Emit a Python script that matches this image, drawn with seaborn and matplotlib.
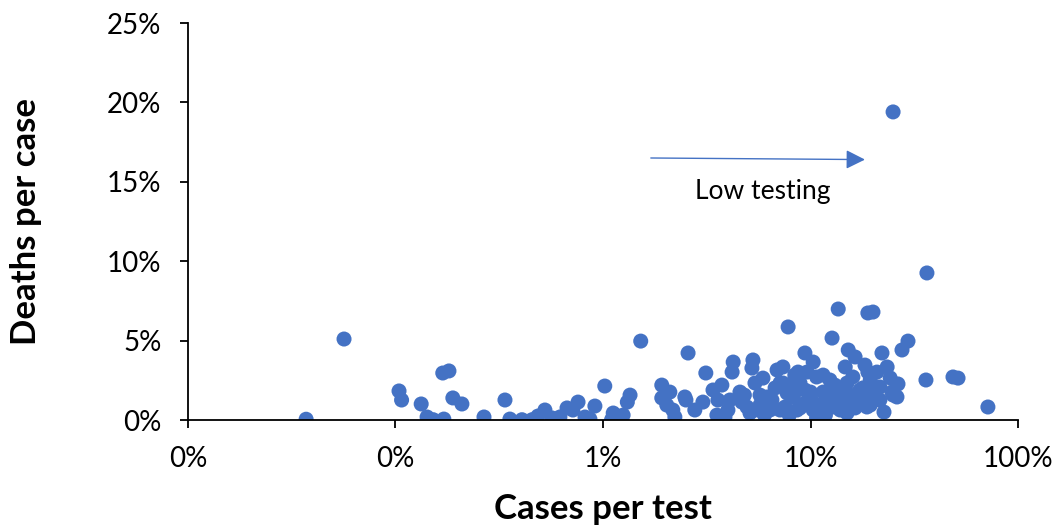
import pandas as pd
import seaborn as sns
import matplotlib.pyplot as plt
from matplotlib.ticker import PercentFormatter, FixedLocator, NullLocator

# cases per test (%) and deaths per case (%)
cases_per_test = [
    0.0371, 0.0565, 0.104, 0.107, 0.133, 0.142, 0.152, 0.171, 0.169, 0.181,
    0.189, 0.209, 0.267, 0.337, 0.356, 0.407, 0.455, 0.486, 0.525, 0.568,
    0.620, 0.671, 0.716, 0.758, 0.819, 0.914, 0.865, 1.02, 1.10, 1.12,
    1.25, 1.31, 1.35, 1.52, 1.92, 2.10, 1.92, 2.03, 2.17, 2.22,
    2.48, 2.57, 2.51, 2.77, 3.03, 3.13, 3.39, 3.74, 3.58, 3.54,
    4.24, 4.19, 5.28, 5.22, 5.90, 5.40, 4.57, 4.09, 4.00, 3.87,
    4.94, 6.17, 6.90, 7.36, 7.13, 7.71, 6.38, 5.11, 7.13, 7.80,
    13.6, 12.7, 18.9, 9.40, 10.3, 15.2, 16.4, 14.7, 8.71, 7.36,
    8.90, 8.24, 7.54, 10.3, 10.7, 11.5, 12.4, 11.5, 13.4, 15.0,
    16.0, 17.3, 14.4, 12.8, 15.0, 16.7, 18.7, 9.40, 8.61, 12.0,
    18.9, 36.4, 20.0, 29.5, 27.6, 22.1, 23.4, 18.3, 20.9, 19.4,
    17.9, 21.6, 26.4, 26.1, 22.6, 36.0, 48.6, 51.4, 24.7, 18.3,
    71.6, 25.0, 9.62, 10.7, 10.0, 5.71, 6.75, 7.96, 9.40, 11.1,
    13.9, 16.4, 20.5, 5.71, 6.52, 4.80, 8.40, 13.1, 15.5, 19.4,
    24.2, 6.00, 7.90, 8.90, 11.8, 13.1, 15.5, 14.7, 4.67, 5.60,
    10.1, 8.40, 19.4, 21.6, 25.0,
]
deaths_per_case = [
    0.05, 5.10, 1.83, 1.26, 1.01, 0.19, 0.02, 0.06, 2.96, 3.09,
    1.39, 1.01, 0.19, 1.26, 0.06, 0.02, 0.02, 0.25, 0.63, 0.13,
    0.19, 0.76, 0.63, 1.13, 0.19, 0.88, 0.06, 2.14, 0.02, 0.44,
    0.31, 1.13, 1.57, 4.97, 2.20, 1.76, 1.39, 0.94, 0.63, 0.19,
    1.45, 4.22, 1.26, 0.63, 1.13, 2.96, 1.89, 2.20, 1.26, 0.31,
    3.65, 3.02, 3.78, 3.27, 2.64, 2.33, 1.76, 1.26, 0.63, 0.19,
    0.82, 1.45, 3.15, 3.34, 2.33, 1.70, 0.63, 0.44, 0.63, 5.86,
    6.99, 5.16, 6.74, 4.22, 3.65, 4.41, 3.97, 3.34, 3.02, 2.33,
    2.33, 1.45, 0.82, 0.63, 0.13, 2.83, 2.52, 1.76, 1.89, 2.33,
    2.71, 1.89, 1.26, 0.82, 0.44, 1.26, 0.82, 1.07, 0.63, 1.26,
    3.02, 9.26, 6.80, 4.97, 4.41, 4.22, 3.34, 3.46, 3.02, 2.52,
    2.02, 2.08, 2.27, 1.45, 0.50, 2.52, 2.71, 2.64, 1.76, 1.45,
    0.82, 19.4, 3.02, 2.71, 1.76, 1.57, 2.02, 2.20, 1.89, 0.94,
    0.63, 0.76, 1.26, 0.94, 1.26, 1.57, 2.83, 1.57, 1.57, 1.76,
    2.65, 0.31, 0.31, 0.76, 0.31, 2.20, 0.94, 1.89, 1.13, 0.63,
    1.26, 1.76, 0.94, 1.26, 1.57,
]

x_ticks = [0.0001, 0.001, 0.01, 0.1, 1]
y_ticks = [0, 0.05, 0.10, 0.15, 0.20, 0.25]

df = pd.DataFrame({
    "Cases per test": [v / 100 for v in cases_per_test],
    "Deaths per case": [v / 100 for v in deaths_per_case],
})

sns.set_theme(style="white")
plt.rcParams["font.family"] = ["Lato", "DejaVu Sans"]

blue = "#4472C4"

fig = plt.figure(figsize=(10.59, 5.30), dpi=100)
ax = fig.add_axes([0.1775, 0.2075, 0.9613 - 0.1775, 0.9566 - 0.2075])

sns.scatterplot(
    data=df, x="Cases per test", y="Deaths per case",
    color=blue, s=117, linewidth=0, edgecolor="none", ax=ax,
)

ax.set_xscale("log")
ax.set_xlim(0.0001, 1)
ax.set_ylim(0, 0.25)
ax.xaxis.set_major_locator(FixedLocator(x_ticks))
ax.xaxis.set_minor_locator(NullLocator())
ax.set_yticks(y_ticks)
ax.xaxis.set_major_formatter(PercentFormatter(1, decimals=0))
ax.yaxis.set_major_formatter(PercentFormatter(1, decimals=0))

for side in ["top", "right"]:
    ax.spines[side].set_visible(False)
for side in ["left", "bottom"]:
    ax.spines[side].set_color("black")
    ax.spines[side].set_linewidth(1.3)

ax.tick_params(axis="both", which="major", direction="out", length=6,
               width=1.3, color="black", labelsize=20, labelcolor="black")
ax.tick_params(axis="y", pad=13, left=True)
ax.tick_params(axis="x", pad=13, bottom=True)

ax.set_xlabel("Cases per test", fontsize=25, fontweight="bold", color="black")
ax.set_ylabel("Deaths per case", fontsize=25, fontweight="bold", color="black")
ax.xaxis.set_label_coords(0.5, -0.185)
ax.yaxis.set_label_coords(-0.176, 0.5)

# low testing arrow
ax.annotate(
    "", xy=(0.183, 0.164), xytext=(0.017, 0.165),
    arrowprops=dict(arrowstyle="-|>,head_length=0.4,head_width=0.2",
                    color=blue, lw=1, mutation_scale=29,
                    shrinkA=0, shrinkB=0),
)
ax.text(0.059, 0.144, "Low testing", fontsize=19, ha="center", va="center",
        color="black")

fig.savefig("out.png", dpi=100)
